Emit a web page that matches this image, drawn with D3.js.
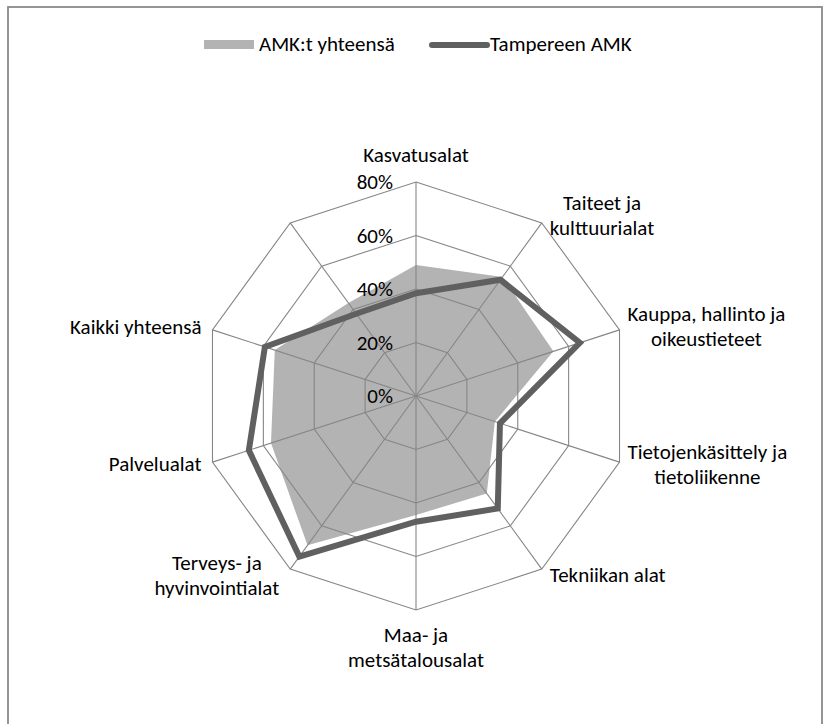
<!DOCTYPE html>
<html>
<meta charset="utf-8">
<head>
<title>Radar</title>
<style>
body { margin: 0; background: #fff; }
text { font-family: Carlito, Lato, "Liberation Sans", sans-serif; font-size: 21px; fill: #000; }
</style>
</head>
<body>
<script src="https://d3js.org/d3.v7.min.js"></script>
<script>

var width = 827, height = 724;
var cx = 416, cy = 396, R = 214;

// categories clockwise from the top, "\n" = wrapped label
var categories = ["Kasvatusalat", "Taiteet ja\nkulttuurialat", "Kauppa, hallinto ja\noikeustieteet",
  "Tietojenkäsittely ja\ntietoliikenne", "Tekniikan alat", "Maa- ja\nmetsätalousalat",
  "Terveys- ja\nhyvinvointialat", "Palvelualat", "Kaikki yhteensä", ""];
var amkTotal = [0.49, 0.55, 0.54, 0.31, 0.45, 0.445, 0.69, 0.57, 0.555, 0.43];
var tampere  = [0.384, 0.537, 0.644, 0.33, 0.52, 0.47, 0.742, 0.657, 0.594, 0.38];
var ticks = [0, 0.2, 0.4, 0.6, 0.8];
var seriesNames = ["AMK:t yhteensä", "Tampereen AMK"];

var r = d3.scaleLinear().domain([0, 0.8]).range([0, R]);
var angle = d3.scaleLinear().domain([0, categories.length]).range([0, 2 * Math.PI]);

var svg = d3.select("body").append("svg")
  .attr("width", width).attr("height", height);

svg.append("rect")
  .attr("x", 8).attr("y", 7).attr("width", 814).attr("height", 740)
  .attr("fill", "none").attr("stroke", "#8a8a8a").attr("stroke-width", 1.8);

var g = svg.append("g").attr("transform", "translate(" + cx + "," + cy + ")");

var radial = d3.lineRadial()
  .angle(function(d, i) { return angle(i); })
  .radius(function(d) { return r(d); })
  .curve(d3.curveLinearClosed);

// area series first, grid drawn over it
g.append("path")
  .datum(amkTotal)
  .attr("d", radial)
  .attr("fill", "#b3b3b3");

// rings
ticks.slice(1).forEach(function(t) {
  g.append("path")
    .datum(categories.map(function() { return t; }))
    .attr("d", radial)
    .attr("fill", "none").attr("stroke", "#868686").attr("stroke-width", 1.1);
});

// spokes
g.selectAll(".spoke").data(categories).enter().append("line")
  .attr("class", "spoke")
  .attr("x1", 0).attr("y1", 0)
  .attr("x2", function(d, i) { return r(0.8) * Math.sin(angle(i)); })
  .attr("y2", function(d, i) { return -r(0.8) * Math.cos(angle(i)); })
  .attr("stroke", "#868686").attr("stroke-width", 1.1);

g.append("path")
  .datum(tampere)
  .attr("d", radial)
  .attr("fill", "none")
  .attr("stroke", "#606060").attr("stroke-width", 6)
  .attr("stroke-linejoin", "miter");

// tick labels
g.selectAll(".tick").data(ticks).enter().append("text")
  .attr("class", "tick")
  .attr("x", -23)
  .attr("y", function(d) { return -r(d); })
  .attr("dy", "0.35em")
  .attr("text-anchor", "end")
  .text(function(d) { return Math.round(d * 100) + "%"; });

// category labels
categories.forEach(function(name, i) {
  if (!name) return;
  var a = angle(i), s = Math.sin(a), c = Math.cos(a);
  var vx = r(0.8) * s, vy = -r(0.8) * c;
  var lines = name.split("\n");
  var lh = 25;
  var t = g.append("text");
  lines.forEach(function(l) { t.append("tspan").text(l); });
  var widths = [];
  t.selectAll("tspan").each(function() { widths.push(this.getComputedTextLength()); });
  var bw = d3.max(widths);
  var left;
  if (Math.abs(s) < 0.01) left = vx - bw / 2;
  else if (s > 0) left = vx + 8;
  else left = vx - 11 - bw;
  var bh = lines.length * lh;
  var top;
  if (c > 0.99) top = vy - 14 - bh;
  else if (c < -0.99) top = vy + 13;
  else top = vy - bh / 2 - c * 8;
  t.selectAll("tspan")
    .attr("text-anchor", "middle")
    .attr("x", left + bw / 2)
    .attr("y", function(d, k) { return top + k * lh + 19; });
});

// legend
var lg = svg.append("g");
lg.append("rect").attr("x", 204).attr("y", 40).attr("width", 50).attr("height", 9).attr("fill", "#b3b3b3");
lg.append("text").attr("x", 259).attr("y", 51).text(seriesNames[0]);
lg.append("line").attr("x1", 432).attr("x2", 487).attr("y1", 45).attr("y2", 45)
  .attr("stroke", "#606060").attr("stroke-width", 6).attr("stroke-linecap", "round");
lg.append("text").attr("x", 490).attr("y", 51).text(seriesNames[1]);

</script>
</body>
</html>
